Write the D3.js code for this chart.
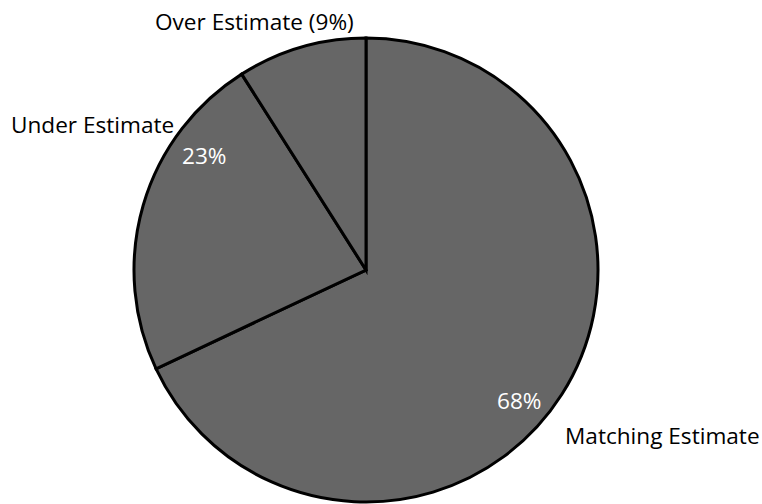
<!DOCTYPE html>
<html>
<head>
<meta charset="utf-8">
<script src="https://cdn.jsdelivr.net/npm/d3@7"></script>
<style>
  html, body { margin: 0; padding: 0; background: #fff; }
  svg { display: block; }
  text { font-family: "Open Sans", "Liberation Sans", sans-serif; }
</style>
</head>
<body>
<svg id="chart" width="762" height="504"></svg>
<script>
// Data
const categories = ["Matching Estimate", "Under Estimate", "Over Estimate"];
const values = [68, 23, 9];
const outerLabels = ["Matching Estimate", "Under Estimate", "Over Estimate (9%)"];
const innerLabels = ["68%", "23%", ""];

// Layout
const W = 762, H = 504;
const cx = 366, cy = 270, R = 232;
const outerPos = [[565, 444], [11, 133], [155, 30]];
const innerPos = [[497, 409], [182, 164], null];
const fontSize = 22.6;

const svg = d3.select("#chart");
const g = svg.append("g").attr("transform", `translate(${cx},${cy})`);

const pie = d3.pie().sort(null).value(d => d)
  .startAngle(0).endAngle(2 * Math.PI);
const arcs = pie(values);
const arc = d3.arc().innerRadius(0).outerRadius(R);

g.selectAll("path.slice")
  .data(arcs)
  .enter().append("path")
  .attr("class", "slice")
  .attr("d", arc)
  .attr("fill", "#666666")
  .attr("stroke", "#000")
  .attr("stroke-width", 3)
  .attr("stroke-linejoin", "miter");

svg.selectAll("text.outer")
  .data(outerLabels)
  .enter().append("text")
  .attr("class", "outer")
  .attr("x", (d, i) => outerPos[i][0])
  .attr("y", (d, i) => outerPos[i][1])
  .attr("font-size", fontSize)
  .attr("fill", "#000")
  .text(d => d);

svg.selectAll("text.inner")
  .data(innerLabels.map((t, i) => ({t, i})).filter(d => d.t))
  .enter().append("text")
  .attr("class", "inner")
  .attr("x", d => innerPos[d.i][0])
  .attr("y", d => innerPos[d.i][1])
  .attr("font-size", fontSize)
  .attr("fill", "#fff")
  .text(d => d.t);
</script>
</body>
</html>
